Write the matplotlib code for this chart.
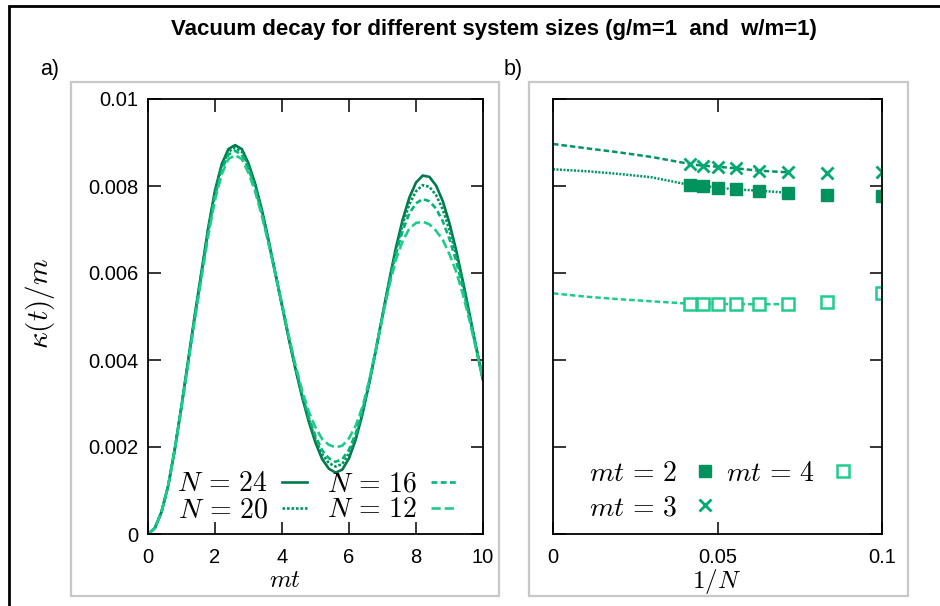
import matplotlib
matplotlib.use("Agg")
import matplotlib.pyplot as plt
from matplotlib.patches import Rectangle
import numpy as np

plt.rcParams['font.family'] = ['Liberation Sans', 'DejaVu Sans']
plt.rcParams['mathtext.fontset'] = 'cm'

# ---- panel a: kappa(t)/m (in units of 1e-3) vs mt, sampled every 0.2 ----
mt = np.linspace(0, 10, 51)
kappa_24 = [0, 0.13, 0.50, 1.10, 1.95, 2.95, 4.00, 5.05, 6.05, 7.05, 7.90,
            8.50, 8.85, 8.94, 8.85, 8.52, 8.05, 7.45, 6.75, 6.00, 5.25,
            4.50, 3.80, 3.15, 2.58, 2.10, 1.72, 1.50, 1.41, 1.48, 1.74,
            2.17, 2.75, 3.45, 4.22, 5.03, 5.83, 6.58, 7.22, 7.73, 8.08,
            8.24, 8.21, 8.01, 7.65, 7.14, 6.52, 5.81, 5.05, 4.28, 3.54]
kappa_20 = [0, 0.13, 0.50, 1.10, 1.95, 2.94, 3.98, 5.02, 6.01, 7.00, 7.84,
            8.44, 8.79, 8.88, 8.79, 8.46, 8.00, 7.41, 6.73, 5.99, 5.26,
            4.51, 3.82, 3.19, 2.64, 2.18, 1.83, 1.63, 1.55, 1.61, 1.85,
            2.25, 2.79, 3.47, 4.22, 5.02, 5.80, 6.52, 7.12, 7.58, 7.88,
            8.02, 7.98, 7.79, 7.46, 6.99, 6.42, 5.75, 5.02, 4.27, 3.54]
kappa_16 = [0, 0.13, 0.50, 1.10, 1.95, 2.92, 3.95, 4.99, 5.97, 6.95, 7.78,
            8.37, 8.72, 8.81, 8.72, 8.40, 7.95, 7.37, 6.70, 5.99, 5.27,
            4.53, 3.84, 3.21, 2.68, 2.25, 1.92, 1.74, 1.66, 1.72, 1.94,
            2.31, 2.83, 3.48, 4.23, 5.00, 5.76, 6.44, 6.97, 7.37, 7.60,
            7.70, 7.65, 7.48, 7.19, 6.78, 6.27, 5.65, 4.97, 4.25, 3.54]
kappa_12 = [0, 0.13, 0.50, 1.10, 1.95, 2.90, 3.92, 4.94, 5.90, 6.87, 7.68,
            8.27, 8.62, 8.71, 8.62, 8.30, 7.87, 7.31, 6.67, 5.98, 5.30,
            4.56, 3.89, 3.30, 2.81, 2.45, 2.18, 2.05, 1.99, 2.03, 2.20,
            2.49, 2.92, 3.52, 4.24, 4.98, 5.70, 6.31, 6.73, 7.02, 7.15,
            7.18, 7.12, 6.97, 6.76, 6.43, 6.03, 5.51, 4.90, 4.23, 3.54]

# ---- panel b: kappa at fixed mt vs 1/N ----
system_sizes = [24, 22, 20, 18, 16, 14, 12, 10]
kappa_mt2 = [8.023, 8.000, 7.961, 7.924, 7.892, 7.846, 7.793, 7.770]
kappa_mt3 = [8.506, 8.467, 8.444, 8.407, 8.352, 8.315, 8.292, 8.329]
kappa_mt4 = [5.294, 5.294, 5.287, 5.287, 5.280, 5.287, 5.340, 5.533]
# extrapolation curves towards 1/N -> 0
fit_x_head = [0.0, 0.01, 0.02, 0.03]
fit_mt2_head = [8.384, 8.340, 8.278, 8.200]
fit_mt3_head = [8.966, 8.869, 8.774, 8.667]
fit_mt4_head = [5.533, 5.456, 5.398, 5.349]

c_dark = '#00794b'
c_mid = '#00955f'
c_light = '#00b576'
c_pale = '#1ecb8a'

W, H = 940, 606
fig = plt.figure(figsize=(W / 100, H / 100), dpi=100)


def box(x0, y0, x1, y1, **kw):
    """Rectangle given in pixel coords (origin top-left)."""
    r = Rectangle((x0 / W, 1 - y1 / H), (x1 - x0) / W, (y1 - y0) / H,
                  transform=fig.transFigure, fill=False, **kw)
    fig.add_artist(r)


# outer frame and the two light grey panel boxes
box(9, 6, 960, 640, ec='black', lw=2)
box(71, 82, 499, 596, ec='#c8c8c8', lw=1.6)
box(529, 82, 908, 596, ec='#c8c8c8', lw=1.6)

ax1 = fig.add_axes([148 / W, 1 - 534 / H, 335 / W, 435 / H])
ax2 = fig.add_axes([553 / W, 1 - 534 / H, 329 / W, 435 / H])

for ax in (ax1, ax2):
    for s in ax.spines.values():
        s.set_linewidth(1.3)
    ax.tick_params(direction='in', length=9, width=1.1, top=True, right=True,
                   labelsize=14.5, colors='black')
    ax.tick_params(axis='x', pad=10)
    ax.tick_params(axis='y', pad=7)
    ax.set_ylim(0, 0.01)

# ---- panel a ----
t_scale = 1e-3
ax1.plot(mt, np.array(kappa_24) * t_scale, color=c_dark, lw=1.9,
         label=r'$N\,=\,24$')
ax1.plot(mt, np.array(kappa_20) * t_scale, color=c_mid, lw=1.9, ls=(0, (1, 0.7)),
         label=r'$N\,=\,20$')
ax1.plot(mt, np.array(kappa_16) * t_scale, color=c_light, lw=1.9, ls=(0, (2.2, 1.3)),
         label=r'$N\,=\,16$')
ax1.plot(mt, np.array(kappa_12) * t_scale, color=c_pale, lw=1.9, ls=(0, (3.5, 1.5)),
         label=r'$N\,=\,12$')
ax1.set_xlim(0, 10)
ax1.set_xticks([0, 2, 4, 6, 8, 10])
ax1.set_yticks([0, 0.002, 0.004, 0.006, 0.008, 0.01])
ax1.set_yticklabels(['0', '0.002', '0.004', '0.006', '0.008', '0.01'])
ax1.set_xticklabels(['0', '2', '4', '6', '8', '10'])
ax1.legend(ncol=2, loc='lower left', bbox_to_anchor=(0.03, -0.02),
           frameon=False, markerfirst=False, fontsize=20,
           handlelength=0.9, handletextpad=0.5, columnspacing=0.7,
           labelspacing=0.0, borderpad=0.2)

# ---- panel b ----
inv_n = 1.0 / np.array(system_sizes)
ax2.plot(fit_x_head + list(inv_n[:6]), np.array(fit_mt3_head + kappa_mt3[:6]) * t_scale,
         color=c_mid, lw=1.8, ls=(0, (2.2, 1.2)))
ax2.plot(fit_x_head + list(inv_n[:6]), np.array(fit_mt2_head + kappa_mt2[:6]) * t_scale,
         color=c_mid, lw=1.8, ls=(0, (0.8, 0.6)))
ax2.plot(fit_x_head + list(inv_n[:6]), np.array(fit_mt4_head + kappa_mt4[:6]) * t_scale,
         color=c_pale, lw=1.8, ls=(0, (2.2, 1.2)))
ax2.plot(inv_n, np.array(kappa_mt2) * t_scale, ls='none', marker='s', ms=8.5,
         color='#00935d', mec='#00935d', label=r'$mt\,=\,2$')
ax2.plot(inv_n, np.array(kappa_mt3) * t_scale, ls='none', marker='x', ms=8, mew=2,
         color='#00aa70', label=r'$mt\,=\,3$')
ax2.plot(inv_n, np.array(kappa_mt4) * t_scale, ls='none', marker='s', ms=8.5, mew=1.8,
         mfc='white', mec='#1fcc8c', label=r'$mt\,=\,4$')
ax2.set_xlim(0, 0.1)
ax2.set_xticks([0, 0.05, 0.1])
ax2.set_xticklabels(['0', '0.05', '0.1'])
ax2.set_yticks([0, 0.002, 0.004, 0.006, 0.008, 0.01])
ax2.set_yticklabels([])
ax2.legend(ncol=2, loc='lower left', bbox_to_anchor=(0.05, -0.015),
           frameon=False, markerfirst=False, fontsize=20, numpoints=1,
           handlelength=1.0, handletextpad=0.5, columnspacing=0.25,
           labelspacing=0.3, borderpad=0.2)

# ---- texts ----
fig.text(494 / W, 1 - 30 / H, 'Vacuum decay for different system sizes (g/m=1  and  w/m=1)',
         ha='center', va='center', fontsize=16, fontweight='bold')
fig.text(50 / W, 1 - 70 / H, 'a)', ha='center', va='center', fontsize=15.5)
fig.text(513 / W, 1 - 69 / H, 'b)', ha='center', va='center', fontsize=15.5)
fig.text(40 / W, 1 - 303 / H, r'$\kappa(t)/m$', rotation=90, ha='center', va='center',
         fontsize=21)
fig.text(285 / W, 1 - 580 / H, '$mt$', ha='center', va='center', fontsize=18)
fig.text(717 / W, 1 - 581 / H, '$1/N$', ha='center', va='center', fontsize=18)

fig.savefig('out.png', dpi=100)
